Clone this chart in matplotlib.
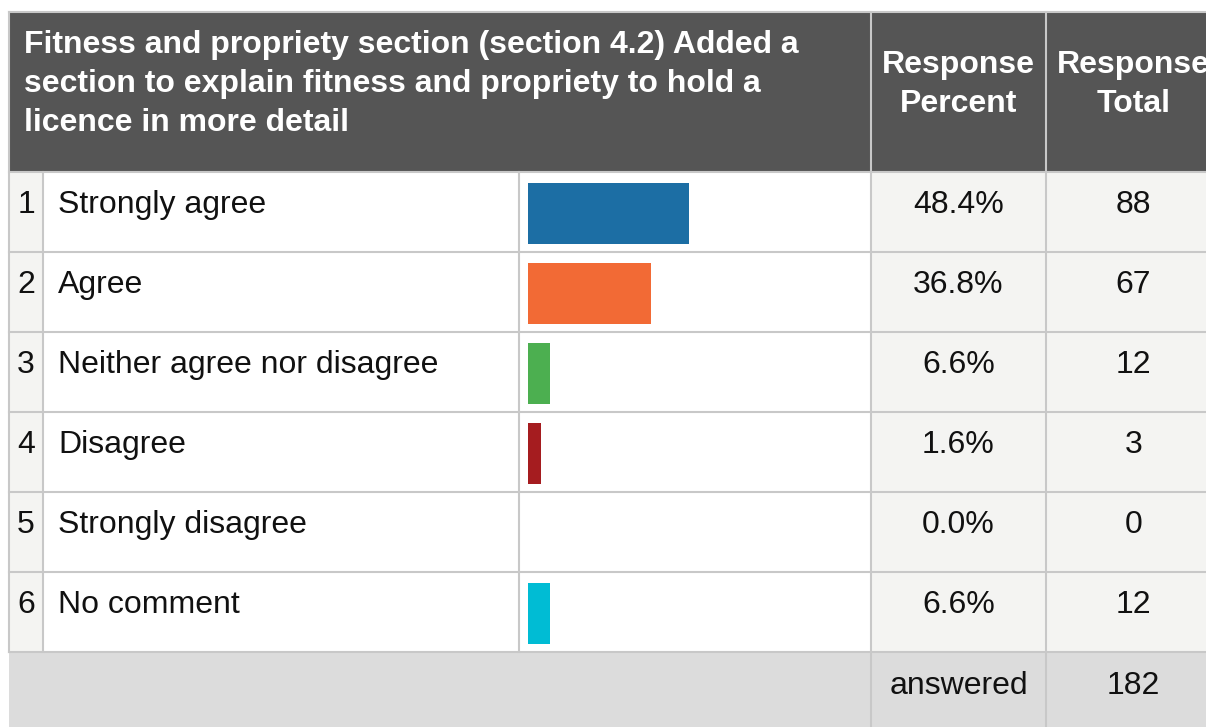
import matplotlib
matplotlib.use("Agg")
import matplotlib.pyplot as plt
from matplotlib.patches import Rectangle

plt.rcParams['font.family'] = ['Liberation Sans', 'DejaVu Sans']
FS = 23

title_lines = ["Fitness and propriety section (section 4.2) Added a",
               "section to explain fitness and propriety to hold a",
               "licence in more detail"]
col_percent = ["Response", "Percent"]
col_total = ["Response", "Total"]
options = ["Strongly agree", "Agree", "Neither agree nor disagree",
           "Disagree", "Strongly disagree", "No comment"]
percents = [48.4, 36.8, 6.6, 1.6, 0.0, 6.6]
totals = [88, 67, 12, 3, 0, 12]
answered = 182
bar_colors = ["#1c6ea4", "#f26a35", "#4caf50", "#a51c1f", "#888888", "#00bcd4"]

W, H = 1206, 727
fig = plt.figure(figsize=(W / 100, H / 100), dpi=100)
ax = fig.add_axes([0, 0, 1, 1])
ax.set_xlim(0, W)
ax.set_ylim(H, 0)
ax.axis("off")

# layout in pixels
left, top = 9, 12
head_bot = 172
row_h = 80
c_num, c_lab, c_bar, c_pct, c_tot, right = 9, 43, 519, 871, 1046, 1221
n = len(options)
body_bot = head_bot + n * row_h
grid = "#c8c8c8"
light = "#f4f4f2"
ink = "#111111"
lw = 1.5

# header
ax.add_patch(Rectangle((left, top), right - left, head_bot - top, color="#555555", lw=0))
ax.plot([left, W], [top, top], color=grid, lw=lw)
ax.plot([left, left], [top, body_bot], color=grid, lw=lw)
for i, line in enumerate(title_lines):
    ax.text(24, 53 + 39 * i, line, color="white", fontsize=FS, fontweight="bold", va="baseline")
for j, (a, b) in enumerate(zip(col_percent, col_total)):
    ax.text((c_pct + c_tot) / 2, 73 + 39 * j, a, color="white", fontsize=FS,
            fontweight="bold", ha="center", va="baseline")
    ax.text((c_tot + right) / 2, 73 + 39 * j, b, color="white", fontsize=FS,
            fontweight="bold", ha="center", va="baseline")

# body backgrounds
ax.add_patch(Rectangle((c_num, head_bot), c_lab - c_num, body_bot - head_bot, color=light, lw=0))
ax.add_patch(Rectangle((c_lab, head_bot), c_pct - c_lab, body_bot - head_bot, color="white", lw=0))
ax.add_patch(Rectangle((c_pct, head_bot), right - c_pct, body_bot - head_bot, color=light, lw=0))
# footer
ax.add_patch(Rectangle((left, body_bot), right - left, H - body_bot, color="#dcdcdc", lw=0))

# grid lines
for i in range(n + 1):
    y = head_bot + i * row_h
    ax.plot([left, W], [y, y], color=grid, lw=lw)
for x in (c_lab, c_bar):
    ax.plot([x, x], [head_bot, body_bot], color=grid, lw=lw)
for x in (c_pct, c_tot):
    ax.plot([x, x], [top, H], color=grid, lw=lw)

# row text
for i, (opt, p, t) in enumerate(zip(options, percents, totals)):
    yb = 213 + i * row_h
    ax.text((c_num + c_lab) / 2, yb, str(i + 1), fontsize=FS, ha="center", va="baseline", color=ink)
    ax.text(58, yb, opt, fontsize=FS, va="baseline", color=ink)
    ax.text((c_pct + c_tot) / 2, yb, f"{p:.1f}%", fontsize=FS, ha="center", va="baseline", color=ink)
    ax.text((c_tot + right) / 2, yb, str(t), fontsize=FS, ha="center", va="baseline", color=ink)

ax.text((c_pct + c_tot) / 2, 694, "answered", fontsize=FS, ha="center", va="baseline", color=ink)
ax.text((c_tot + right) / 2, 694, str(answered), fontsize=FS, ha="center", va="baseline", color=ink)

# bars: own axes, x in percent
bx0, bx1 = 528, 528 + 333
bax = fig.add_axes([bx0 / W, 1 - (head_bot + 1.5 + n * row_h) / H, (bx1 - bx0) / W, n * row_h / H])
bax.set_xlim(0, 100)
bax.set_ylim(n - 0.5, -0.5)
bax.axis("off")
shown = [p if p == 0 else max(p, 3.9) for p in percents]
bax.barh(range(n), shown, height=0.76, color=bar_colors, left=0)

fig.savefig("out.png", dpi=100)
